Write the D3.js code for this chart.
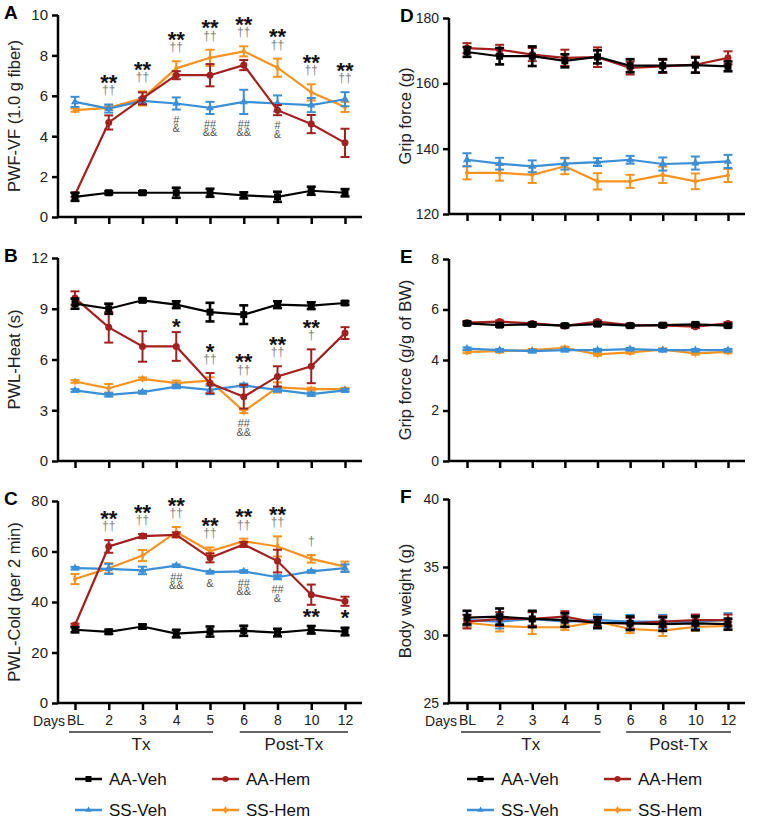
<!DOCTYPE html>
<html><head><meta charset="utf-8">
<script src="https://cdn.jsdelivr.net/npm/d3@7"></script>
<style>
html,body{margin:0;padding:0;background:#fff;}
svg text{font-family:"Liberation Sans",Arial,Helvetica,sans-serif;}
</style>
</head><body>
<svg id="chart" width="760" height="822"></svg>
<script>
// ---------- DATA ----------
const dayLabels = ["BL","2","3","4","5","6","8","10","12"];
const groupNames = ["AA-Veh","AA-Hem","SS-Veh","SS-Hem"];
const groupColors = ["#000000","#a3201f","#3a8fd6","#f7931e"];
const groupMarkers = ["square","circle","triangle","diamond"];

// Panel A: PWF-VF (1.0 g fiber)
const pwfMean = [
  [1.0,1.2,1.2,1.2,1.2,1.07,1.0,1.3,1.2],
  [1.1,4.68,5.87,7.02,7.02,7.52,5.29,4.6,3.67],
  [5.7,5.37,5.75,5.62,5.4,5.7,5.62,5.54,5.83],
  [5.29,5.4,5.87,7.36,7.88,8.2,7.39,6.17,5.45]];
const pwfSem = [
  [0.2,0.08,0.08,0.25,0.2,0.15,0.25,0.2,0.18],
  [0.1,0.35,0.3,0.2,0.55,0.25,0.25,0.45,0.7],
  [0.25,0.2,0.15,0.3,0.3,0.6,0.4,0.35,0.35],
  [0.08,0.1,0.35,0.35,0.4,0.25,0.45,0.4,0.25]];
const pwfAbove = [["2","**","††"],["3","**","††"],["4","**","††"],["5","**","††"],["6","**","††"],["8","**","††"],["10","**","††"],["12","**","††"]];
const pwfBelow = [["4","#","&"],["5","##","&&"],["6","##","&&"],["8","#","&"]];

// Panel B: PWL-Heat (s)
const heatMean = [
  [9.3,9.0,9.5,9.24,8.8,8.65,9.24,9.18,9.34],
  [9.63,7.9,6.77,6.77,4.6,3.8,5.0,5.6,7.56],
  [4.17,3.91,4.07,4.4,4.2,4.47,4.2,3.95,4.17],
  [4.7,4.3,4.86,4.6,4.75,2.93,4.35,4.25,4.25]];
const heatSem = [
  [0.3,0.3,0.1,0.2,0.55,0.55,0.2,0.2,0.1],
  [0.4,0.9,0.9,0.85,0.6,0.7,0.6,1.0,0.35],
  [0.08,0.1,0.08,0.1,0.25,0.1,0.1,0.1,0.08],
  [0.08,0.25,0.08,0.15,0.2,0.1,0.3,0.08,0.08]];
const heatAbove = [["4","*"],["5","*","††"],["6","**","††"],["8","**","††"],["10","**","†"]];
const heatBelow = [["6","##","&&"]];

// Panel C: PWL-Cold (per 2 min)
const coldMean = [
  [29.0,28.2,30.3,27.5,28.3,28.6,27.9,29.0,28.3],
  [30.9,62,66.1,66.6,57.5,62.8,56.2,42.9,40.3],
  [53.4,53.1,52.5,54.4,51.8,52.1,49.8,52.1,53.4],
  [49.1,53.4,58.4,67.7,60.1,64.1,62,57.1,54]];
const coldSem = [
  [1,0.8,0.8,1.5,2,2,1.5,1.5,1.5],
  [0.5,2.5,0.8,1,1.8,1,4.5,4,1.8],
  [0.5,2,1.5,0.5,0.5,0.5,0.8,0.5,1.5],
  [2,2,2.2,2,1.5,1,4,1.5,2]];
const coldAbove = [["2","**","††"],["3","**","††"],["4","**","††"],["5","**","††"],["6","**","††"],["8","**","††"],["10","†"]];
const coldBelow = [["4","##","&&"],["5","&"],["6","##","&&"],["8","##","&"],["10","**"],["12","*"]];

// Panel D: Grip force (g)
const gripMean = [
  [169.6,168.3,168.3,166.9,168.1,165.4,165.4,165.6,165.2],
  [170.8,170.3,168.8,167.8,168,164.7,165.2,165.7,167.8],
  [136.6,135.4,134.6,135.4,135.9,136.6,135.3,135.6,136.1],
  [132.6,132.6,132.0,134.6,130.0,130.0,132.0,130.0,131.8]];
const gripSem = [
  [1.5,2.5,3,2,2,2,2,2.3,1.5],
  [1.5,1.5,2,2.5,3,2,2,2.5,2],
  [2,1.8,1.8,1.8,1.2,1.2,2,2,2],
  [2,2.4,2.5,2.4,2.5,2,2.5,2.4,2]];

// Panel E: Grip force (g/g of BW)
const gripBwMean = [
  [5.45,5.38,5.41,5.36,5.42,5.36,5.38,5.41,5.36],
  [5.48,5.52,5.45,5.35,5.52,5.38,5.37,5.32,5.45],
  [4.45,4.39,4.35,4.39,4.39,4.43,4.39,4.39,4.39],
  [4.32,4.35,4.39,4.48,4.22,4.3,4.41,4.26,4.32]];
const gripBwSem = [
  [0.06,0.06,0.06,0.06,0.06,0.06,0.06,0.06,0.06],
  [0.05,0.05,0.05,0.05,0.05,0.05,0.05,0.05,0.05],
  [0.05,0.05,0.05,0.05,0.05,0.05,0.05,0.05,0.05],
  [0.05,0.05,0.05,0.05,0.05,0.05,0.05,0.05,0.05]];

// Panel F: Body weight (g)
const bwMean = [
  [31.28,31.35,31.18,31.1,30.9,30.86,30.8,30.86,30.8],
  [30.98,31.18,31.18,31.35,30.9,30.86,30.98,31.1,31.1],
  [31.1,30.98,31.18,30.98,31.1,30.98,30.98,30.98,31.1],
  [30.9,30.66,30.57,30.57,30.98,30.44,30.32,30.6,30.66]];
const bwSem = [
  [0.5,0.6,0.6,0.5,0.4,0.5,0.5,0.5,0.4],
  [0.5,0.5,0.5,0.4,0.3,0.4,0.4,0.4,0.4],
  [0.4,0.5,0.5,0.4,0.4,0.5,0.5,0.5,0.5],
  [0.3,0.4,0.5,0.2,0.3,0.3,0.4,0.3,0.3]];

const ticksA = [0,2,4,6,8,10], ticksB = [0,3,6,9,12], ticksC = [0,20,40,60,80];
const ticksD = [120,140,160,180], ticksE = [0,2,4,6,8], ticksF = [25,30,35,40];
const phaseNames = ["Tx","Post-Tx"];

// ---------- LAYOUT ----------
const svg = d3.select("#chart");
const cols = [
  {axisX:58, xEnd:362, first:75, last:345, titleX:14, labelX:4, tickFs:15},
  {axisX:449, xEnd:745, first:467, last:728, titleX:405, labelX:400, tickFs:14}
];
const panels = [
  {id:"A", col:0, y0:217, y1:15, dom:[0,10], ticks:ticksA, mean:pwfMean, sem:pwfSem, above:pwfAbove, below:pwfBelow, title:"PWF-VF (1.0 g fiber)"},
  {id:"B", col:0, y0:461, y1:258, dom:[0,12], ticks:ticksB, mean:heatMean, sem:heatSem, above:heatAbove, below:heatBelow, title:"PWL-Heat (s)"},
  {id:"C", col:0, y0:703, y1:501, dom:[0,80], ticks:ticksC, mean:coldMean, sem:coldSem, above:coldAbove, below:coldBelow, title:"PWL-Cold (per 2 min)", xlabels:true},
  {id:"D", col:1, y0:214, y1:18, dom:[120,180], ticks:ticksD, mean:gripMean, sem:gripSem, above:[], below:[], title:"Grip force (g)"},
  {id:"E", col:1, y0:461, y1:259, dom:[0,8], ticks:ticksE, mean:gripBwMean, sem:gripBwSem, above:[], below:[], title:"Grip force (g/g of BW)"},
  {id:"F", col:1, y0:703, y1:499, dom:[25,40], ticks:ticksF, mean:bwMean, sem:bwSem, above:[], below:[], title:"Body weight (g)", xlabels:true}
];
const drawOrder = [3,2,1,0];

function markerPath(type, s){
  if(type==="square") return d3.symbol(d3.symbolSquare, s*s)();
  if(type==="circle") return d3.symbol(d3.symbolCircle, Math.PI*(s/2)*(s/2))();
  if(type==="triangle") return d3.symbol(d3.symbolTriangle, s*s*0.45)();
  return d3.symbol(d3.symbolDiamond, s*s*0.5)();
}
const markerSize = [7,7,8,6];

function annStyle(t){
  if(t.indexOf("*")>=0) return {fs:22, fill:"#111", weight:"bold", base:9.5, isStar:true};
  if(t.indexOf("†")>=0) return {fs:12, fill:"#808080", weight:"normal", base:4, isDag:true};
  return {fs:11, fill:"#555", weight:"normal", base:4};
}

function stackText(g, xx, items){
  // items: [{t, cy}] -> one text element with positioned tspans
  const te = g.append("text").attr("text-anchor","middle");
  items.forEach(it=>{
    const st = annStyle(it.t);
    te.append("tspan").attr("x",xx).attr("y",it.cy+st.base)
      .attr("font-size",st.fs).attr("font-weight",st.weight).attr("fill",st.fill).text(it.t);
  });
}

panels.forEach(p=>{
  const c = cols[p.col];
  const x = d3.scalePoint().domain(dayLabels).range([c.first,c.last]);
  const y = d3.scaleLinear().domain(p.dom).range([p.y0,p.y1]);
  const g = svg.append("g");

  // axes
  const ya = d3.axisLeft(y).tickValues(p.ticks).tickSize(6).tickPadding(4).tickFormat(d3.format("d"));
  const yg = g.append("g").attr("transform",`translate(${c.axisX},0)`).call(ya);
  yg.select(".domain").attr("d",`M-0,${p.y1}V${p.y0}`).attr("stroke-width",2.5);
  yg.selectAll(".tick line").attr("stroke-width",2.5);
  yg.selectAll(".tick text").attr("font-size",c.tickFs).attr("fill","#222")
    .attr("font-family","Liberation Sans, Arial, sans-serif");

  const xa = d3.axisBottom(x).tickSize(7).tickPadding(5).tickFormat(p.xlabels? (d=>d) : (()=> ""));
  const xg = g.append("g").attr("transform",`translate(0,${p.y0})`).call(xa);
  xg.select(".domain").attr("d",`M${c.axisX},0H${c.xEnd}`).attr("stroke-width",2.5);
  xg.selectAll(".tick line").attr("stroke-width",2.5);
  xg.selectAll(".tick text").attr("font-size",14).attr("fill","#222")
    .attr("font-family","Liberation Sans, Arial, sans-serif");

  // panel label
  g.append("text").attr("x",c.labelX).attr("y",p.y1+4).attr("font-size",19).attr("font-weight","bold").text(p.id);
  // y title
  g.append("text").attr("transform",`translate(${c.titleX+6},${(p.y0+p.y1)/2}) rotate(-90)`)
    .attr("text-anchor","middle").attr("font-size",16.5).attr("fill","#222").text(p.title);

  // series
  drawOrder.forEach(si=>{
    const col = groupColors[si];
    const pts = dayLabels.map((d,i)=>({d, v:p.mean[si][i], e:p.sem[si][i]}));
    g.append("path").datum(pts).attr("fill","none").attr("stroke",col).attr("stroke-width",2.2)
      .attr("d", d3.line().x(d=>x(d.d)).y(d=>y(d.v)));
    const eb = g.append("g");
    pts.forEach(d=>{
      const yt = y(d.v+d.e), yb = y(d.v-d.e), xx = x(d.d);
      const sw = si===0 ? 2.6 : 2;
      eb.append("line").attr("x1",xx).attr("x2",xx).attr("y1",yt).attr("y2",yb).attr("stroke",col).attr("stroke-width",sw);
      [yt,yb].forEach(yy=> eb.append("line").attr("x1",xx-4.5).attr("x2",xx+4.5).attr("y1",yy).attr("y2",yy).attr("stroke",col).attr("stroke-width",sw));
    });
    g.selectAll(null).data(pts).enter().append("path")
      .attr("transform",d=>`translate(${x(d.d)},${y(d.v)})`)
      .attr("d", markerPath(groupMarkers[si], markerSize[si])).attr("fill",col);
  });

  // annotations
  const excl = [1,2,3];
  p.above.forEach(a=>{
    const i = dayLabels.indexOf(a[0]);
    const top = d3.min(excl, s=> y(p.mean[s][i]+p.sem[s][i]));
    const lines = a.slice(1);
    const items = [];
    let cy = top;
    for(let k=lines.length-1;k>=0;k--){
      cy = (k===lines.length-1) ? top - (lines[k].indexOf("†")>=0 ? 14 : 8) : cy - 10;
      items.push({t:lines[k], cy});
    }
    stackText(g, x(a[0]), items);
  });
  p.below.forEach(a=>{
    const i = dayLabels.indexOf(a[0]);
    const bot = d3.max(excl, s=> y(p.mean[s][i]-p.sem[s][i]));
    const lines = a.slice(1);
    const items = [];
    let cy = bot + 10;
    lines.forEach((t,k)=>{ if(k>0) cy += 8.5; items.push({t, cy}); });
    stackText(g, x(a[0]), items);
  });

  // x-axis phase annotation
  if(p.xlabels){
    g.append("text").attr("x",c.first-10).attr("y",p.y0+23).attr("text-anchor","end")
      .attr("font-size",14).attr("fill","#222").text("Days");
    const spans = [[x("BL")-6, x("5")+3],[x("6")-4, x("12")+3]];
    spans.forEach((s,k)=>{
      g.append("line").attr("x1",s[0]).attr("x2",s[1]).attr("y1",p.y0+29).attr("y2",p.y0+29)
        .attr("stroke","#333").attr("stroke-width",1.5);
      g.append("text").attr("x",(s[0]+s[1])/2).attr("y",p.y0+47).attr("text-anchor","middle")
        .attr("font-size",17).attr("fill","#222").text(phaseNames[k]);
    });
    // legend
    const lg = svg.append("g");
    const lx = [c.first, c.first+137];
    const ly = [779, 810];
    groupNames.forEach((n,k)=>{
      const gx = lx[k%2], gy = ly[Math.floor(k/2)];
      lg.append("line").attr("x1",gx).attr("x2",gx+27).attr("y1",gy).attr("y2",gy)
        .attr("stroke",groupColors[k]).attr("stroke-width",2.5);
      lg.append("path").attr("transform",`translate(${gx+13.5},${gy})`)
        .attr("d",markerPath(groupMarkers[k],6)).attr("fill",groupColors[k]);
      lg.append("text").attr("x",gx+34).attr("y",gy+6).attr("font-size",17).attr("fill","#111").text(n);
    });
  }
});
</script>
</body></html>
